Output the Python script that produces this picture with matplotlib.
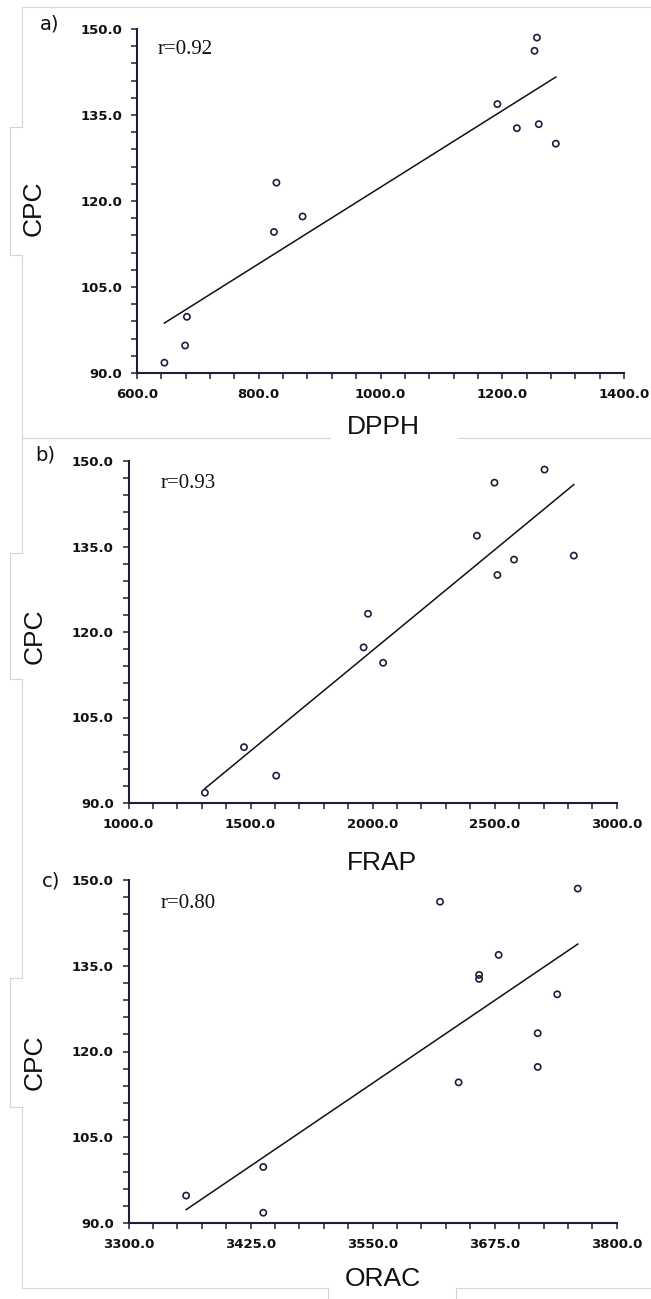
import numpy as np
import matplotlib.pyplot as plt
from matplotlib.lines import Line2D
from matplotlib.ticker import FixedLocator, MultipleLocator, FormatStrFormatter

W, H = 651, 1299

# values, same sample order in every array
cpc = [91.8, 94.8, 99.8, 114.6, 117.3, 123.2, 130.0, 132.7, 133.4, 136.9, 146.2, 148.5]
dpph = [645, 679, 682, 825, 872, 829, 1288, 1224, 1260, 1192, 1253, 1257]
frap = [1313, 1605, 1473, 2043, 1963, 1981, 2511, 2579, 2824, 2427, 2499, 2704]
orac = [3438, 3359, 3438, 3638, 3719, 3719, 3739, 3659, 3659, 3679, 3619, 3760]

x_names = ["DPPH", "FRAP", "ORAC"]
r_labels = ["r=0.92", "r=0.93", "r=0.80"]
letters = ["a)", "b)", "c)"]
x_limits = [(600, 1400), (1000, 3000), (3300, 3800)]
x_major = [200, 500, 125]
y_limits = (90, 150)

NAVY = "#1e1e3c"


def px(x, y):
    """pixel position -> figure fraction"""
    return x / W, 1 - y / H


def panel(fig, box, x, y, xlim, xstep):
    left, top, right, bottom = box
    ax = fig.add_axes([left / W, 1 - bottom / H, (right - left) / W, (bottom - top) / H])
    ax.scatter(x, y, s=20, facecolors="none", edgecolors=NAVY, linewidths=1.2, zorder=3)
    k, b = np.polyfit(x, y, 1)
    xs = np.array([min(x), max(x)])
    ax.plot(xs, k * xs + b, color="#111111", lw=1.1)

    ax.set_xlim(*xlim)
    ax.set_ylim(*y_limits)
    ax.xaxis.set_major_locator(FixedLocator(np.arange(xlim[0], xlim[1] + 1, xstep)))
    ax.xaxis.set_minor_locator(FixedLocator(np.arange(xlim[0], xlim[1] + 1, xstep / 5)))
    ax.yaxis.set_major_locator(MultipleLocator(15))
    ax.yaxis.set_minor_locator(MultipleLocator(3))
    ax.xaxis.set_major_formatter(FormatStrFormatter("%.1f"))
    ax.yaxis.set_major_formatter(FormatStrFormatter("%.1f"))

    for s in ("top", "right"):
        ax.spines[s].set_visible(False)
    for s in ("left", "bottom"):
        ax.spines[s].set_color(NAVY)
        ax.spines[s].set_linewidth(1.5)
    ax.tick_params(which="both", direction="out", length=4, width=1.1, color=NAVY)
    ax.tick_params(which="major", pad=6.5, labelsize=9.5, labelcolor="#111111")
    for lab in ax.get_xticklabels() + ax.get_yticklabels():
        lab.set_fontweight("bold")
        lab.set_family("DejaVu Sans")
    ax.set_facecolor("none")
    return ax


fig = plt.figure(figsize=(W / 100, H / 100), dpi=100)

# faint grey frame left over from the page layout
frame = [
    ((22, 7), (651, 7)), ((22, 7), (22, 127)),
    ((22, 127), (10, 127)), ((10, 127), (10, 255)), ((10, 255), (22, 255)),
    ((22, 255), (22, 553)),
    ((22, 553), (10, 553)), ((10, 553), (10, 679)), ((10, 679), (22, 679)),
    ((22, 679), (22, 978)),
    ((22, 978), (10, 978)), ((10, 978), (10, 1107)), ((10, 1107), (22, 1107)),
    ((22, 1107), (22, 1288)),
    ((22, 438), (330, 438)), ((458, 438), (651, 438)),
    ((22, 1288), (328, 1288)), ((328, 1288), (328, 1299)),
    ((456, 1288), (651, 1288)), ((456, 1288), (456, 1299)),
]
for p0, p1 in frame:
    (x0, y0), (x1, y1) = px(*p0), px(*p1)
    fig.add_artist(Line2D([x0, x1], [y0, y1], color="#d6d6d6", lw=0.8))

boxes = [(137, 29, 624, 373), (128.5, 461, 616.8, 803), (128.5, 880, 616.8, 1223)]
xdata = [dpph, frap, orac]
letter_pos = [(50, 24), (45, 455), (51, 881)]
r_pos = [(158, 50), (161, 483), (161, 903)]
cpc_pos = [(34, 208), (34.5, 636), (34.5, 1062)]
xlab_pos = [(383, 427), (382, 863), (383, 1279)]

for i in range(3):
    panel(fig, boxes[i], xdata[i], cpc, x_limits[i], x_major[i])
    fig.text(*px(*letter_pos[i]), letters[i], fontsize=14, family="DejaVu Sans",
             ha="center", va="center", color="#111111")
    fig.text(*px(*r_pos[i]), r_labels[i], fontsize=15, family="Liberation Serif",
             ha="left", va="center", color="#111111")
    fig.text(*px(*cpc_pos[i]), "CPC", fontsize=19, family="Liberation Sans",
             rotation=90, ha="center", va="center", color="#111111")
    fig.text(*px(*xlab_pos[i]), x_names[i], fontsize=19, family="Liberation Sans",
             ha="center", va="center", color="#111111")

plt.savefig("out.png", dpi=100)
